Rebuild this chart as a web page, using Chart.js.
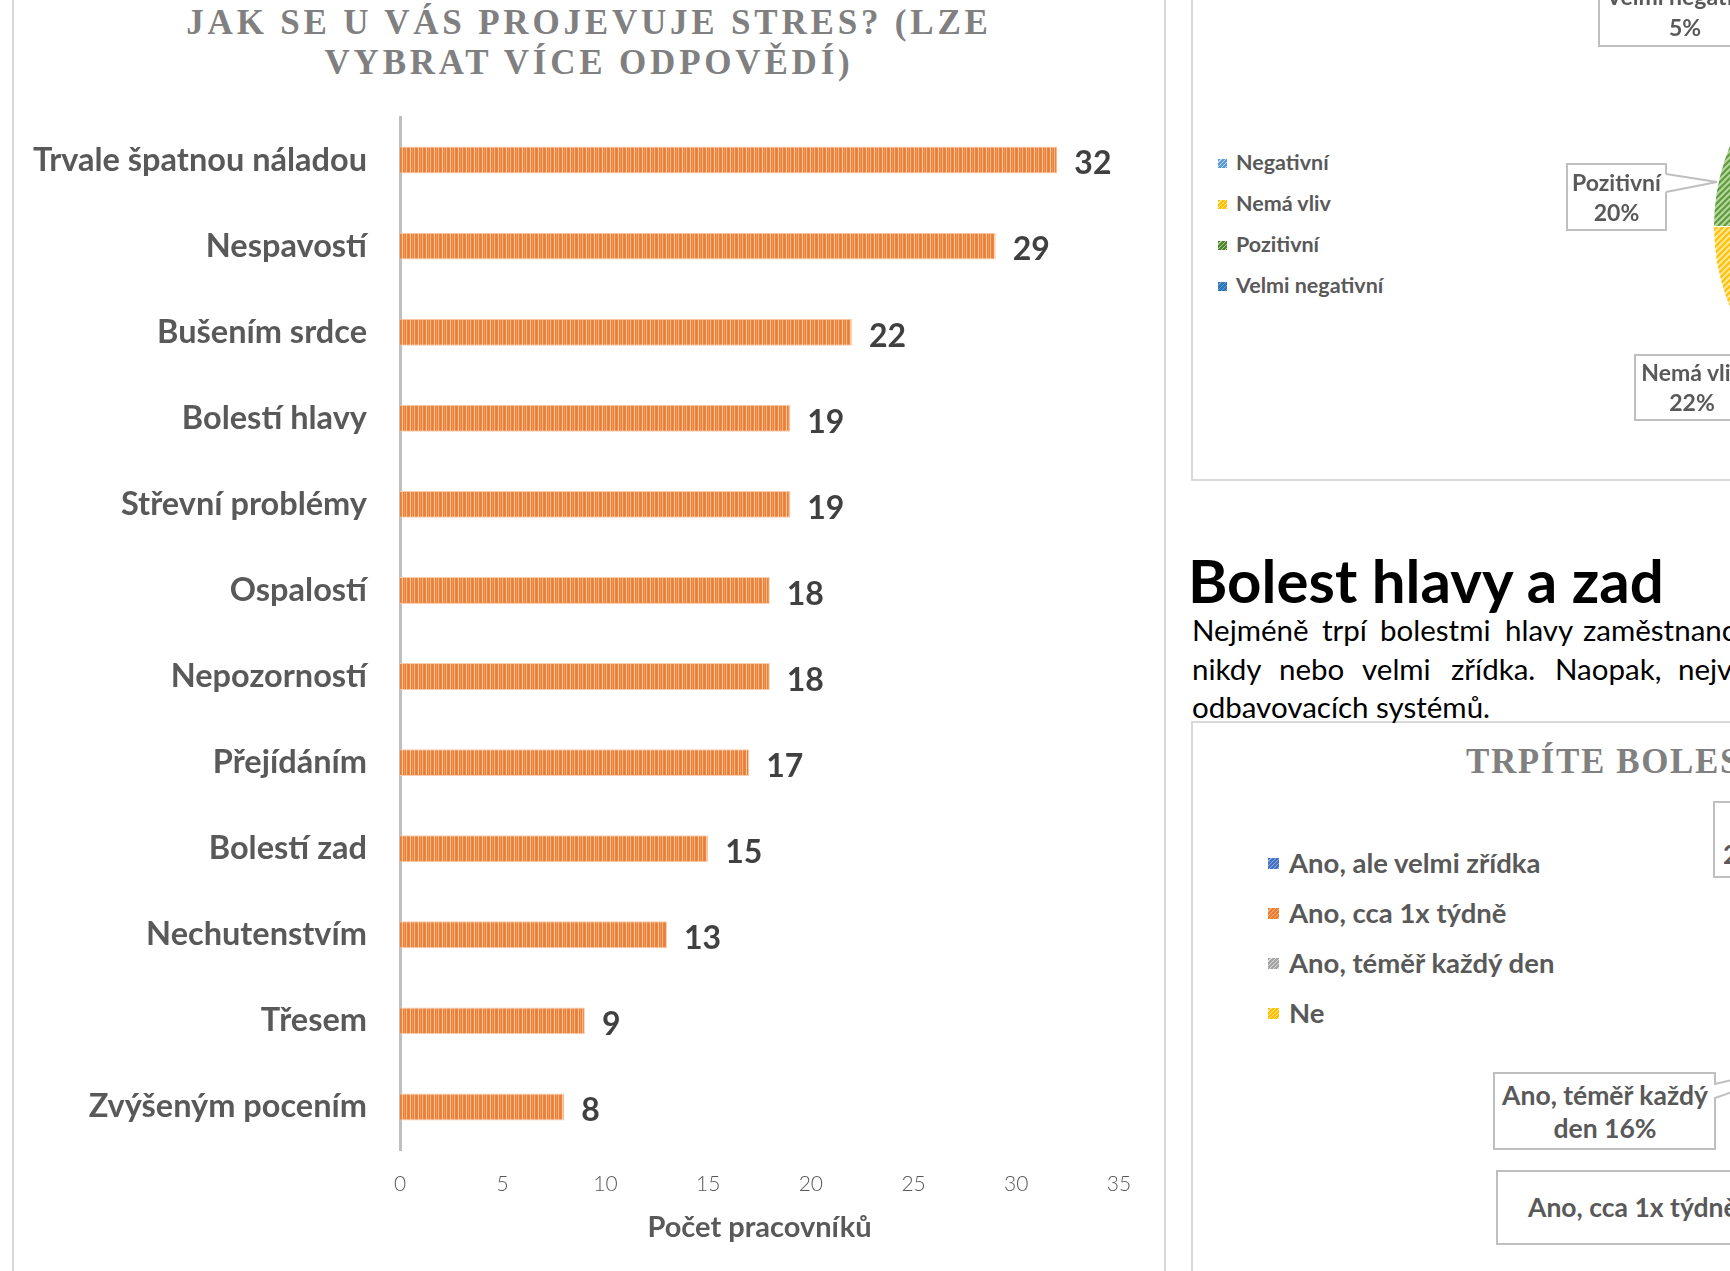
<!DOCTYPE html>
<html lang="cs"><head><meta charset="utf-8">
<title>Jak se u vás projevuje stres?</title>
<script src="https://cdn.jsdelivr.net/npm/chart.js@4.4.1/dist/chart.umd.min.js"></script>
<style>
  html,body{margin:0;padding:0;background:#fff;}
  body{width:1730px;height:1271px;overflow:hidden;position:relative;font-family:Lato,"Noto Sans",sans-serif;}
  .a{position:absolute;white-space:nowrap;}
  .frame{position:absolute;border:2px solid #D9D9D9;box-sizing:border-box;}
  .ttl{font-family:"Liberation Serif","Times New Roman",serif;font-weight:bold;color:#808080;}
  .lg{font-weight:bold;color:#595959;}
  .sq{position:absolute;}
  .call{position:absolute;border:2px solid #BFBFBF;background:#fff;box-sizing:border-box;color:#595959;font-weight:bold;}
  canvas{position:absolute;}
</style></head><body>

<div class="frame" style="left:12px;top:-20px;width:1154px;height:1320px"></div>
<div class="frame" style="left:1191px;top:-20px;width:700px;height:501px"></div>
<div class="frame" style="left:1191px;top:721px;width:700px;height:700px"></div>

<div class="a ttl" style="left:0;width:1178px;top:3px;text-align:center;font-size:35px;line-height:40px;letter-spacing:3.8px">JAK SE U VÁS PROJEVUJE STRES? (LZE<br>VYBRAT VÍCE ODPOVĚDÍ)</div>

<canvas id="c1" width="1165" height="1271" style="left:0;top:0"></canvas>
<canvas id="c2" width="423" height="423" style="left:1713px;top:15px"></canvas>

<div id="overlay"></div>

<script>
// ---- main chart data ----
const categories = ['Trvale špatnou náladou','Nespavostí','Bušením srdce','Bolestí hlavy','Střevní problémy','Ospalostí','Nepozorností','Přejídáním','Bolestí zad','Nechutenstvím','Třesem','Zvýšeným pocením'];
const counts = [32,29,22,19,19,18,18,17,15,13,9,8];
const xTickValues = [0,5,10,15,20,25,30,35];
const xAxisTitle = 'Počet pracovníků';

// ---- side pie (partly visible) ----
const pieLabels = ['Negativní','Nemá vliv','Pozitivní','Velmi negativní'];
const pieShares = [53,22,20,5];

// ---- second chart legend (pie off-page) ----
const headLabels = ['Ano, ale velmi zřídka','Ano, cca 1x týdně','Ano, téměř každý den','Ne'];

function stripePattern(){
  const c=document.createElement('canvas'); c.width=8; c.height=1;
  const g=c.getContext('2d');
  const cols=['#ED7D31','#EF8844','#F8CBAD','#ED7D31','#F29B5E','#ED7D31','#F5B88E','#EE8238'];
  cols.forEach((col,i)=>{g.fillStyle=col; g.fillRect(i,0,1,1);});
  return g.createPattern(c,'repeat');
}
function hatch(fg,bg){
  const s=6, c=document.createElement('canvas'); c.width=s; c.height=s;
  const g=c.getContext('2d'); g.fillStyle=bg; g.fillRect(0,0,s,s);
  g.strokeStyle=fg; g.lineWidth=2; g.beginPath();
  g.moveTo(0,s); g.lineTo(s,0); g.moveTo(-s/2,s/2); g.lineTo(s/2,-s/2); g.moveTo(s/2,s*1.5); g.lineTo(s*1.5,s/2);
  g.stroke(); return g.createPattern(c,'repeat');
}

const valueLabels = {
  id:'valueLabels',
  afterDatasetsDraw(chart){
    const ctx=chart.ctx, meta=chart.getDatasetMeta(0);
    ctx.save(); ctx.font='bold 32px Lato'; ctx.fillStyle='#404040';
    ctx.textBaseline='middle'; ctx.textAlign='left';
    meta.data.forEach((bar,i)=>ctx.fillText(String(counts[i]), bar.x+17, bar.y+4));
    ctx.restore();
  }
};

new Chart(document.getElementById('c1'), {
  type:'bar',
  data:{labels:categories, datasets:[{data:counts, backgroundColor:stripePattern(), borderColor:'#F8CBAD', borderWidth:1, categoryPercentage:0.313, barPercentage:1}]},
  options:{
    indexAxis:'y', responsive:false, animation:false,
    layout:{padding:{left:0,right:46,top:117,bottom:26}},
    plugins:{legend:{display:false}, tooltip:{enabled:false}, title:{display:false}},
    scales:{
      y:{type:'category', offset:true,
         grid:{display:false, drawTicks:false},
         border:{display:true, color:'#BFBFBF', width:3},
         ticks:{font:{family:'Lato', size:32.5, weight:'bold'}, color:'#595959', padding:33},
         afterFit:s=>{s.width=400;}},
      x:{type:'linear', min:xTickValues[0], max:xTickValues[xTickValues.length-1],
         grid:{display:false, drawTicks:false}, border:{display:false},
         afterBuildTicks:s=>{s.ticks=xTickValues.map(v=>({value:v}));},
         ticks:{font:{family:'Lato', size:21, weight:'300'}, color:'#595959', padding:22},
         title:{display:true, text:xAxisTitle, font:{family:'Lato', size:29, weight:'bold'}, color:'#595959', padding:{top:0,bottom:0}},
         afterFit:s=>{s.height=95;}}
    }
  },
  plugins:[valueLabels]
});

const pieColors=[hatch('#5B9BD5','#BDD7EE'), hatch('#FFC000','#FFE699'), hatch('#5E9A3A','#B5D69E'), hatch('#255E91','#8FAADC')];
new Chart(document.getElementById('c2'), {
  type:'pie',
  data:{labels:pieLabels, datasets:[{data:pieShares, backgroundColor:pieColors, borderColor:'#ffffff', borderWidth:1}]},
  options:{responsive:false, animation:false, layout:{padding:0},
    plugins:{legend:{display:false}, tooltip:{enabled:false}}}
});

// ---- page overlay (legends, callouts, text) ----
const ov=document.getElementById('overlay');
function txt(t,x,cy,size,opts={}){
  const d=document.createElement('div'); d.className='a'+(opts.cls?' '+opts.cls:'');
  d.textContent=t; d.style.fontSize=size+'px'; d.style.lineHeight=(1.2*size)+'px';
  d.style.top=(cy-0.627*size)+'px';
  if(opts.center){ d.style.left=(x-400)+'px'; d.style.width='800px'; d.style.textAlign='center'; }
  else d.style.left=x+'px';
  if(opts.color) d.style.color=opts.color;
  if(opts.weight) d.style.fontWeight=opts.weight;
  if(opts.ls!==undefined) d.style.letterSpacing=opts.ls+'px';
  if(opts.family) d.style.fontFamily=opts.family;
  ov.appendChild(d); return d;
}
function box(x,y,w,h){ const d=document.createElement('div'); d.className='call'; d.style.left=x+'px'; d.style.top=y+'px'; d.style.width=w+'px'; d.style.height=h+'px'; ov.appendChild(d); return d;}
function square(x,y,s,fg,bg){ const d=document.createElement('div'); d.className='sq'; d.style.left=x+'px'; d.style.top=y+'px'; d.style.width=s+'px'; d.style.height=s+'px';
  d.style.background='repeating-linear-gradient(135deg,'+fg+' 0 2px,'+bg+' 2px 3px)'; ov.appendChild(d); }

// upper legend
const upFg=['#5B9BD5','#FFC000','#548235','#2E75B6'], upBg=['#BDD7EE','#FFE699','#A9D18E','#5B9BD5'];
const upY=[163,204,245.5,286.5];
pieLabels.forEach((l,i)=>{ square(1218,upY[i]-4.5,9,upFg[i],upBg[i]); txt(l,1236,upY[i],21.5,{cls:'lg'}); });

// upper callouts
box(1598,-34,174,81); txt('Velmi negativní',1685,-3,23,{cls:'lg',center:true}); txt('5%',1685,28,23,{cls:'lg',center:true});
box(1566,163,101,68); txt('Pozitivní',1616.5,183,23,{cls:'lg',center:true}); txt('20%',1616.5,213,23,{cls:'lg',center:true});
box(1634,354,116,67); txt('Nemá vliv',1692,373,23,{cls:'lg',center:true}); txt('22%',1692,403,23,{cls:'lg',center:true});

// heading & paragraph
txt('Bolest hlavy a zad',1188,582,60,{weight:'bold',color:'#000'});
const pl1=[['Nejméně',1192],['trpí',1322],['bolestmi',1380],['hlavy',1505],['zaměstnanci',1583]];
const pl2=[['nikdy',1192],['nebo',1279],['velmi',1362],['zřídka.',1451],['Naopak,',1555],['nejvíce',1678]];
pl1.forEach(w=>txt(w[0],w[1],630,29.5,{color:'#000'}));
pl2.forEach(w=>txt(w[0],w[1],669,29.5,{color:'#000'}));
txt('odbavovacích systémů.',1192,707,29.5,{color:'#000'});

// lower chart title & legend
txt('TRPÍTE BOLESTÍ HLAVY?',1466,763,35,{cls:'ttl',ls:1.6,family:'"Liberation Serif",serif'});
const loFg=['#4472C4','#ED7D31','#A5A5A5','#FFC000'], loBg=['#8FAADC','#F4B183','#D9D9D9','#FFE699'];
const loY=[863.5,913,963,1013];
headLabels.forEach((l,i)=>{ square(1268,loY[i]-5.5,11,loFg[i],loBg[i]); txt(l,1289,loY[i],27.5,{cls:'lg'}); });

// lower callouts
box(1713,801,120,77); txt('2',1723,856,26.5,{cls:'lg'});
box(1493,1072,223,78); txt('Ano, téměř každý',1605,1097,26.5,{cls:'lg',center:true}); txt('den 16%',1605,1130,26.5,{cls:'lg',center:true});
box(1496,1170,300,75); txt('Ano, cca 1x týdně',1528,1209,26.5,{cls:'lg'});

// leader lines
const svgNS='http://www.w3.org/2000/svg';
const svg=document.createElementNS(svgNS,'svg'); svg.setAttribute('width','1730'); svg.setAttribute('height','1271');
svg.style.position='absolute'; svg.style.left='0'; svg.style.top='0';
svg.innerHTML='<polygon points="1665,174 1717,182 1665,192" fill="#fff"/><polyline points="1666,174 1717,182 1666,192" fill="none" stroke="#BFBFBF" stroke-width="2"/>'+
 '<polygon points="1714,1084 1730,1076 1730,1094 1714,1098" fill="#fff"/><polyline points="1715,1073 1715,1084 1732,1080" fill="none" stroke="#BFBFBF" stroke-width="2"/><polyline points="1715,1150 1715,1098 1732,1092" fill="none" stroke="#BFBFBF" stroke-width="2"/>';
ov.appendChild(svg);
</script>
</body></html>
